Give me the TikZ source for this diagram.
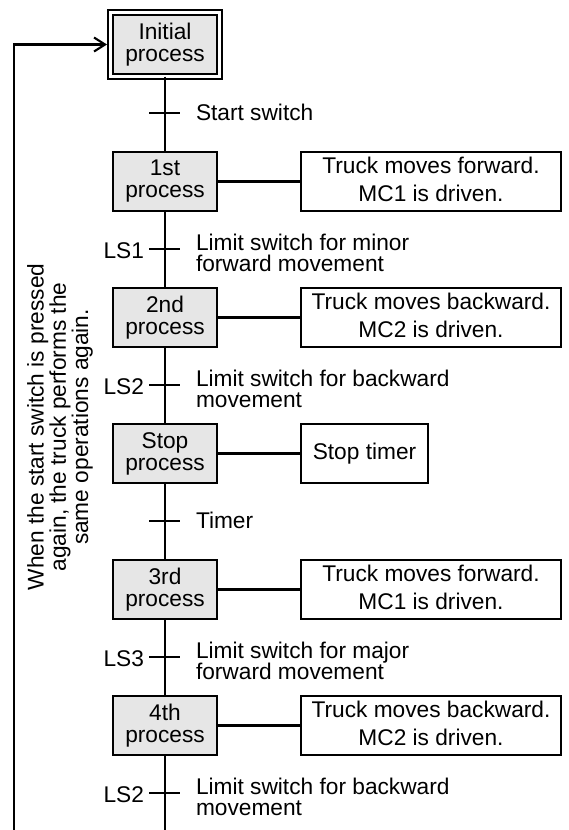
\documentclass[tikz,border=0pt]{standalone}
\usepackage{fontspec}
\setmainfont{Liberation Sans}
\usetikzlibrary{arrows.meta}
\definecolor{boxgray}{RGB}{230,230,230}
\newcommand{\lastdepth}{\rule[-5pt]{0pt}{5pt}}
\begin{document}
\begin{tikzpicture}[x=1pt,y=-1pt,
  every node/.style={inner sep=0pt, outer sep=0pt, font=\fontsize{22.7}{22}\selectfont},
  proc/.style={draw, line width=2.1pt, fill=boxgray, minimum width=104pt, minimum height=59pt, align=center, font=\fontsize{22.7}{22}\selectfont},
  initproc/.style={proc, double, double distance=3pt, minimum width=109pt, minimum height=64pt},
  act/.style={draw, line width=2.1pt, fill=white, minimum height=59pt, anchor=west, align=center, font=\fontsize{22.7}{28}\selectfont},
  link/.style={line width=2.1pt},
  tick/.style={line width=2.1pt},
  lbl/.style={anchor=north west, align=left, font=\fontsize{22.7}{21.5}\selectfont},
  lbone/.style={anchor=west},
  lsl/.style={anchor=east},
  note/.style={rotate=90, align=center, font=\fontsize{22.7}{20.5}\selectfont}
]
\useasboundingbox (0,0) rectangle (569,830);

% process steps
\node[initproc] (p0) at (165,44.5) {Initial\\process};
\node[proc] (p1) at (165,181.5) {1st\\process};
\node[proc] (p2) at (165,317.5) {2nd\\process};
\node[proc] (p3) at (165,453.5) {Stop\\process};
\node[proc] (p4) at (165,589.5) {3rd\\process};
\node[proc] (p5) at (165,725.5) {4th\\process};

% action boxes
\node[act, minimum width=260pt] (r1) at (301,181.5) {Truck moves forward.\\MC1 is driven.\lastdepth};
\node[act, minimum width=260pt] (r2) at (301,317.5) {Truck moves backward.\\MC2 is driven.\lastdepth};
\node[act, minimum width=127pt] (r3) at (301,453.5) {Stop timer};
\node[act, minimum width=260pt] (r4) at (301,589.5) {Truck moves forward.\\MC1 is driven.\lastdepth};
\node[act, minimum width=260pt] (r5) at (301,725.5) {Truck moves backward.\\MC2 is driven.\lastdepth};

% transition points
\coordinate (t0) at (165,113);
\coordinate (t1) at (165,249);
\coordinate (t2) at (165,385);
\coordinate (t3) at (165,521);
\coordinate (t4) at (165,657);
\coordinate (t5) at (165,793);
\coordinate (bot) at (165,830);
\coordinate (lb) at (14,830);

% main vertical line
\draw[link] (p0.south) -- (p1.north);
\draw[link] (p1.south) -- (p2.north);
\draw[link] (p2.south) -- (p3.north);
\draw[link] (p3.south) -- (p4.north);
\draw[link] (p4.south) -- (p5.north);
\draw[link] (p5.south) -- (bot);

% horizontal links to action boxes
\draw[link] (p1.east) -- (r1.west);
\draw[link] (p2.east) -- (r2.west);
\draw[link] (p3.east) -- (r3.west);
\draw[link] (p4.east) -- (r4.west);
\draw[link] (p5.east) -- (r5.west);

% ticks
\foreach \t in {t0,t1,t2,t3,t4,t5}{
  \draw[tick] ([xshift=-16pt]\t) -- ([xshift=15pt]\t);
}

% transition labels
\node[lbl] (l0) at (196,104) {Start switch};
\node[lbl] (l1) at (196,234) {Limit switch for minor\\forward movement};
\node[lbl] (l2) at (196,370) {Limit switch for backward\\movement};
\node[lbl] (l3) at (196,512) {Timer};
\node[lbl] (l4) at (196,642) {Limit switch for major\\forward movement};
\node[lbl] (l5) at (196,778) {Limit switch for backward\\movement};

\node[lsl] (s1) at (144,251) {LS1};
\node[lsl] (s2) at (144,387) {LS2};
\node[lsl] (s4) at (144,659) {LS3};
\node[lsl] (s5) at (144,795) {LS2};

% return line
\draw[link, -{Straight Barb[length=11pt,width=14pt]}, shorten >=3.5pt] (lb) |- (p0.west);

\node[note] (n) at (60,427) {When the start switch is pressed\\again, the truck performs the\\same operations again.};
\end{tikzpicture}
\end{document}
